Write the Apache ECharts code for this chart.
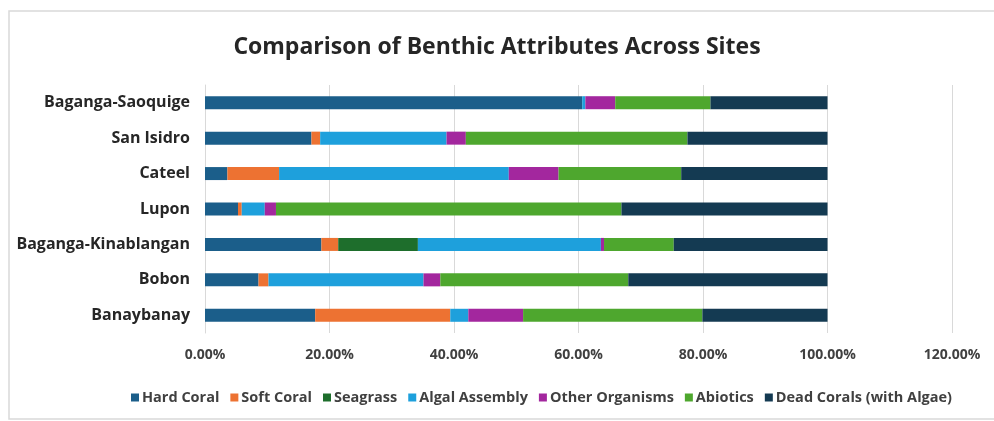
<!DOCTYPE html>
<html>
<head>
<meta charset="utf-8">
<script src="https://cdn.jsdelivr.net/npm/echarts@6/dist/echarts.min.js"></script>
<style>html,body{margin:0;padding:0;background:#fff}#c{width:994px;height:421px}</style>
</head>
<body>
<div id="c"></div>
<script>
const categories = ['Banaybanay','Bobon','Baganga-Kinablangan','Lupon','Cateel','San Isidro','Baganga-Saoquige'];
const seriesNames = ['Hard Coral','Soft Coral','Seagrass','Algal Assembly','Other Organisms','Abiotics','Dead Corals (with Algae)'];
const hardCoral      = [17.7, 8.6, 18.7, 5.3, 3.6, 17.1, 60.6];
const softCoral      = [21.7, 1.6, 2.7, 0.6, 8.3, 1.4, 0];
const seagrass       = [0, 0, 12.8, 0, 0, 0, 0];
const algalAssembly  = [2.9, 24.9, 29.4, 3.7, 36.9, 20.3, 0.5];
const otherOrganisms = [8.8, 2.7, 0.5, 1.8, 8.0, 3.1, 4.8];
const abiotics       = [28.8, 30.2, 11.2, 55.5, 19.7, 35.6, 15.3];
const deadCorals     = [20.1, 32.0, 24.7, 33.1, 23.5, 22.5, 18.8];
const xTicks = [0, 20, 40, 60, 80, 100, 120];
const colors = ['#1b5e8a','#ed7232','#1e6e2c','#1ea0dc','#a3279e','#4ea72e','#143a52'];

const dataSets = [hardCoral, softCoral, seagrass, algalAssembly, otherOrganisms, abiotics, deadCorals];
const chart = echarts.init(document.getElementById('c'));
chart.setOption({
  animation: false,
  backgroundColor: '#fff',
  title: {
    text: 'Comparison of Benthic Attributes Across Sites',
    left: 'center', top: 31,
    textStyle: {fontFamily: 'Open Sans', fontSize: 23, fontWeight: 'bold', color: '#262626'}
  },
  graphic: [{
    type: 'rect', shape: {x: 9, y: 11, width: 1000, height: 408},
    style: {fill: 'none', stroke: '#d9d9d9', lineWidth: 1.5}, silent: true
  }],
  legend: {
    bottom: 11, left: 126, itemWidth: 8, itemHeight: 8, itemGap: 11,
    icon: 'rect',
    textStyle: {fontFamily: 'Open Sans', fontSize: 14.5, fontWeight: 'bold', color: '#404040', padding: [0,0,0,-2]},
    data: seriesNames
  },
  grid: {left: 205, right: 42, top: 85, bottom: 88, containLabel: false},
  xAxis: {
    type: 'value', min: 0, max: 120, interval: 20,
    axisLine: {show: false}, axisTick: {show: false},
    splitLine: {lineStyle: {color: '#d9d9d9', width: 1}},
    axisLabel: {
      margin: 15, fontFamily: 'Open Sans', fontSize: 14, fontWeight: 'bold', color: '#404040',
      formatter: v => xTicks.includes(v) ? v.toFixed(2) + '%' : ''
    }
  },
  yAxis: {
    type: 'category', data: categories,
    axisLine: {show: true, lineStyle: {color: '#d9d9d9'}}, axisTick: {show: false},
    axisLabel: {margin: 15, fontFamily: 'Open Sans', fontSize: 16, fontWeight: 'bold', color: '#262626'}
  },
  series: seriesNames.map((n, i) => ({
    name: n, type: 'bar', stack: 'total', barWidth: 13,
    itemStyle: {color: colors[i]},
    data: dataSets[i]
  }))
});
</script>
</body>
</html>
